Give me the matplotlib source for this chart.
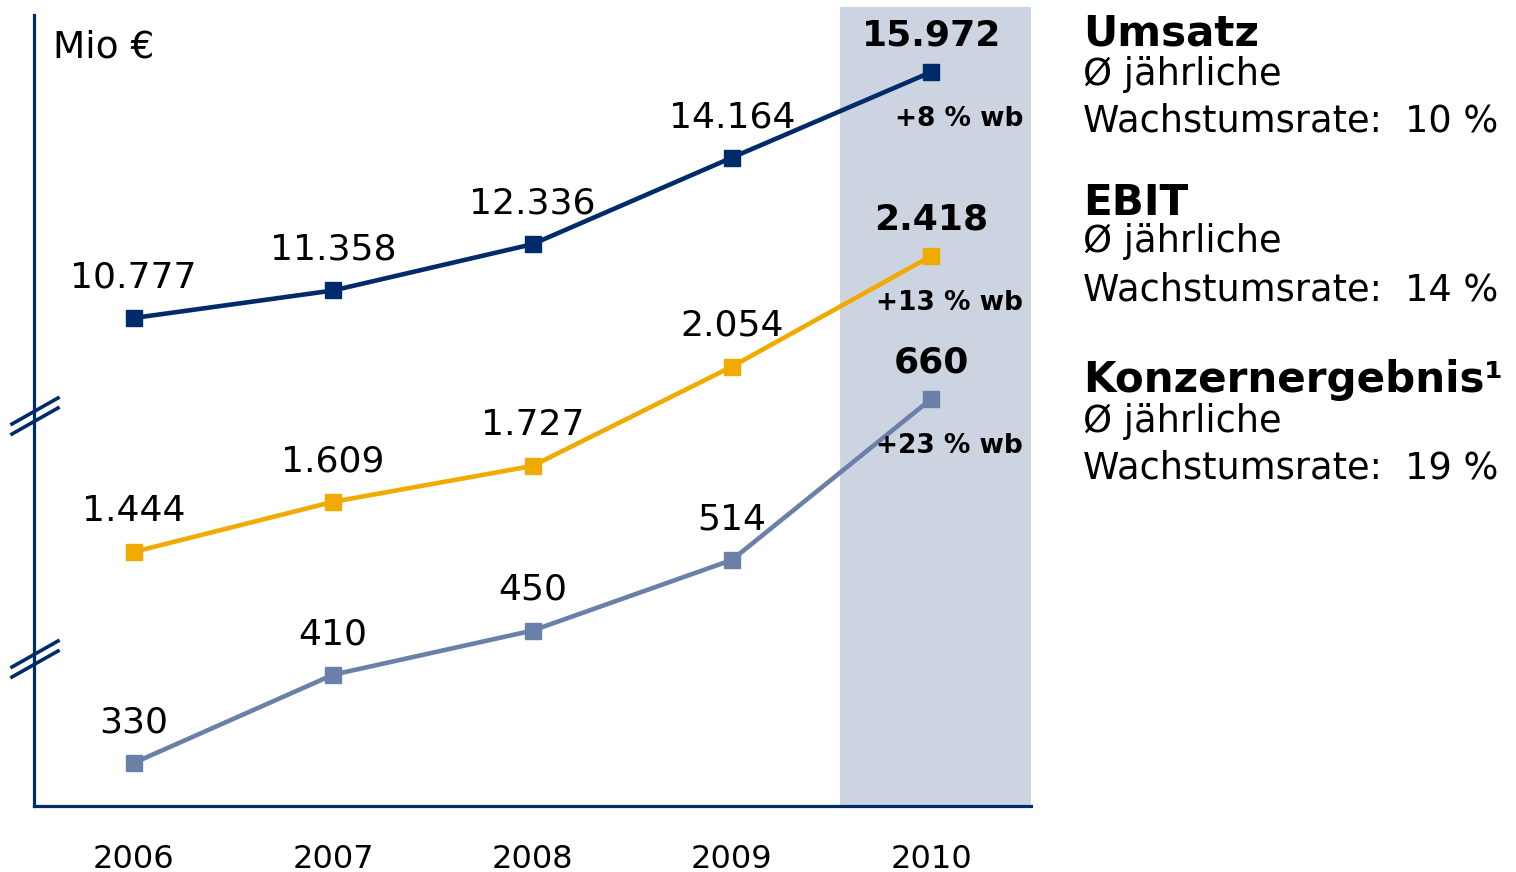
import matplotlib
matplotlib.use("Agg")
import matplotlib.pyplot as plt
from matplotlib.lines import Line2D

# Data
years = [2006, 2007, 2008, 2009, 2010]
umsatz = [10777, 11358, 12336, 14164, 15972]
ebit = [1444, 1609, 1727, 2054, 2418]
konzern = [330, 410, 450, 514, 660]
change_labels = ["+8 % wb", "+13 % wb", "+23 % wb"]
titles = ["Umsatz", "EBIT", "Konzernergebnis\u00b9"]
cagr = [10, 14, 19]

NAVY = "#002B6B"
ORANGE = "#F0AA00"
SLATE = "#6A80A8"
SHADE = "#CCD4E2"

W, H = 1516, 872
plt.rcParams['font.family'] = ['DejaVu Sans']

fig = plt.figure(figsize=(W / 100, H / 100), dpi=100)
ax = fig.add_axes([34 / W, (H - 806) / H, (1031 - 34) / W, (806 - 15) / H])
ax.set_xlim(2005.5, 2010.5)
ax.set_ylim(471, 17176)

# shaded forecast year
ax.axvspan(2009.54, 2010.5, ymin=0, ymax=1.0101, color=SHADE, lw=0,
           clip_on=False, zorder=0)

for s in ["top", "right"]:
    ax.spines[s].set_visible(False)
for s in ["left", "bottom"]:
    ax.spines[s].set_color(NAVY)
    ax.spines[s].set_linewidth(2.3)
ax.set_yticks([])
ax.set_xticks(years)
ax.set_xticklabels([str(y) for y in years], fontsize=23)
ax.tick_params(axis="x", length=0, pad=27, colors="black")

# one hidden y scale per series (broken axis)
ax_e = ax.twinx()
ax_e.set_ylim(608, 3211)
ax_k = ax.twinx()
ax_k.set_ylim(291, 1008)
for a in (ax_e, ax_k):
    a.axis("off")


def fmt(v):
    return f"{v:,}".replace(",", ".")


series = [(ax, umsatz, NAVY), (ax_e, ebit, ORANGE), (ax_k, konzern, SLATE)]
for (a, vals, col), chg in zip(series, change_labels):
    a.plot(years, vals, color=col, lw=3.3, marker="s", markersize=12,
           solid_joinstyle="round", zorder=3)
    for i, (x, v) in enumerate(zip(years, vals)):
        last = i == len(years) - 1
        a.annotate(fmt(v), (x, v), xytext=(0, 14 if last else 17),
                   textcoords="offset points", ha="center", va="bottom",
                   fontsize=26,
                   fontweight="bold" if last else "normal")
    a.annotate(chg, (years[-1], vals[-1]), xytext=(66, -34),
               textcoords="offset points", ha="right", va="center",
               fontsize=19, fontweight="bold")

fig.text(53 / W, 1 - 58 / H, "Mio \u20ac", fontsize=27, va="baseline")

# axis break marks
ax_w = 1031 - 34
for yb in (398, 641):
    for d in (0, 10):
        ax.add_line(Line2D([-22 / ax_w, 24 / ax_w],
                           [(806 - (yb + 26 + d)) / 791, (806 - (yb + d)) / 791],
                           transform=ax.transAxes, color=NAVY, lw=2.6,
                           clip_on=False))

# right-hand notes
base_y = [(46, 85, 132), (215, 252, 300), (392, 432, 478)]
for t, g, (b1, b2, b3) in zip(titles, cagr, base_y):
    fig.text(1083 / W, 1 - b1 / H, t, fontsize=30.3, fontweight="bold",
             va="baseline")
    fig.text(1083 / W, 1 - b2 / H, "\u00d8 j\u00e4hrliche", fontsize=26.5,
             va="baseline")
    fig.text(1083 / W, 1 - b3 / H, f"Wachstumsrate:  {g} %", fontsize=26.5,
             va="baseline")

fig.savefig("out.png", dpi=100)
